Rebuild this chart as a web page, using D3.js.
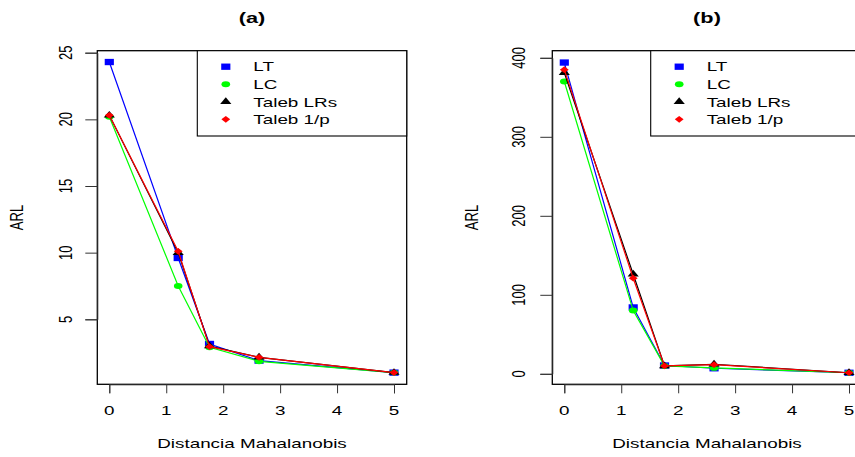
<!DOCTYPE html>
<html>
<head>
<meta charset="utf-8">
<script src="https://cdn.jsdelivr.net/npm/d3@7"></script>
<style>
  body { margin: 0; background: #fff; }
  svg text { font-family: "Liberation Sans", Arial, Helvetica, sans-serif; fill: #000; }
</style>
</head>
<body>
<div id="chart"></div>
<script>
// data
var distances = [0, 1.21, 1.76, 2.63, 5];
var seriesNames = ["LT", "LC", "Taleb LRs", "Taleb 1/p"];
var seriesColors = ["#0000ff", "#00ff00", "#000000", "#ff0000"];

// panel (a)
var ltA = [24.3, 9.6, 3.15, 1.9, 1.0];
var lcA = [20.2, 7.5, 2.9, 1.85, 1.0];
var talebLRsA = [20.3, 10.0, 3.0, 2.15, 1.0];
var talebPA = [20.3, 10.1, 2.95, 2.15, 1.0];
var yTicksA = [5, 10, 15, 20, 25];

// panel (b)
var ltB = [394, 84, 10.5, 7, 1.3];
var lcB = [370, 80, 10, 7.5, 1.3];
var talebLRsB = [381, 126, 10, 12, 1.3];
var talebPB = [385, 121, 10, 11.5, 1.3];
var yTicksB = [0, 100, 200, 300, 400];

var xTicks = [0, 1, 2, 3, 4, 5];

var svgWidth = 855;
var svgHeight = 457;
var sx = 1.45; // the picture is stretched sideways

var svg = d3.select("#chart")
    .append("svg")
    .attr("width", svgWidth)
    .attr("height", svgHeight);

// filled diamond like R pch 18
var diamond18 = {
    draw: function(context, size) {
        var h = Math.sqrt(size) * 0.62;
        context.moveTo(0, -h * 1.1);
        context.lineTo(h, 0);
        context.lineTo(0, h * 1.1);
        context.lineTo(-h, 0);
        context.closePath();
    }
};
var symbols = [
    d3.symbol(d3.symbolSquare, 40),
    d3.symbol(d3.symbolCircle, 28),
    d3.symbol(d3.symbolTriangle, 26),
    d3.symbol(diamond18, 24)
];

function stretchedText(g, x, y, txt, size, opts) {
    opts = opts || {};
    var t = g.append("text")
        .attr("transform", "translate(" + x + "," + y + ") scale(" + sx + ",1)" + (opts.rotate ? " rotate(-90)" : ""))
        .attr("font-size", size + "px")
        .attr("text-anchor", opts.anchor || "middle")
        .text(txt);
    if (opts.bold) t.attr("font-weight", "bold");
    return t;
}

function drawPanel(cfg) {
    var g = svg.append("g");
    var left = cfg.left, right = cfg.left + 309.4, top = 50.7, bottom = 384.3;

    var x = d3.scaleLinear().domain([0, 5]).range([left + 12, left + 296.7]);
    var y = d3.scaleLinear().domain(cfg.yDomain).range(cfg.yRange);

    // frame
    g.append("rect")
        .attr("x", left).attr("y", top)
        .attr("width", right - left).attr("height", bottom - top)
        .attr("fill", "none").attr("stroke", "#000").attr("stroke-width", 1.3);

    // y axis
    var yAxis = g.append("g")
        .attr("transform", "translate(" + left + ",0)")
        .call(d3.axisLeft(y).tickValues(cfg.yTicks).tickSize(12).tickFormat(""));
    yAxis.selectAll("path, line").attr("stroke", "#333");
    cfg.yTicks.forEach(function(v) {
        stretchedText(g, left - cfg.tickLabelGap, y(v), String(v), 13, {rotate: true});
    });

    // x axis
    var xAxis = g.append("g")
        .attr("transform", "translate(0," + bottom + ")")
        .call(d3.axisBottom(x).tickValues(xTicks).tickSize(9).tickFormat(""));
    xAxis.selectAll("path, line").attr("stroke", "#333");
    xTicks.forEach(function(v) {
        stretchedText(g, x(v), 415, String(v), 13);
    });

    // labels
    stretchedText(g, (left + right) / 2, 23, cfg.title, 15, {bold: true});
    stretchedText(g, (left + right) / 2, 448, "Distancia Mahalanobis", 13);
    stretchedText(g, left - 74, (top + bottom) / 2, "ARL", 13, {rotate: true});

    // series
    var line = d3.line()
        .x(function(d) { return x(d[0]); })
        .y(function(d) { return y(d[1]); });

    cfg.series.forEach(function(vals, i) {
        var pts = distances.map(function(d, j) { return [d, vals[j]]; });
        g.append("path")
            .datum(pts)
            .attr("d", line)
            .attr("fill", "none")
            .attr("stroke", seriesColors[i])
            .attr("stroke-width", 1.2);
        g.selectAll(".pt" + i)
            .data(pts)
            .enter()
            .append("path")
            .attr("class", "pt" + i)
            .attr("d", symbols[i]())
            .attr("transform", function(d) { return "translate(" + x(d[0]) + "," + y(d[1]) + ") scale(" + sx + ",1)"; })
            .attr("fill", seriesColors[i]);
    });

    // legend, top right
    var legLeft = cfg.legendLeft;
    g.append("rect")
        .attr("x", legLeft).attr("y", top)
        .attr("width", right - legLeft).attr("height", 136 - top)
        .attr("fill", "#fff").attr("stroke", "#000").attr("stroke-width", 1.1);
    seriesNames.forEach(function(name, i) {
        var ly = 66.7 + i * 17.55;
        g.append("path")
            .attr("d", symbols[i]())
            .attr("transform", "translate(" + (legLeft + 28.5) + "," + ly + ") scale(" + sx + ",1)")
            .attr("fill", seriesColors[i]);
        stretchedText(g, legLeft + 56, ly + 4.7, name, 13, {anchor: "start"});
    });
}

drawPanel({
    left: 97.3,
    title: "(a)",
    yDomain: [5, 25], yRange: [319.3, 52.7],
    yTicks: yTicksA,
    tickLabelGap: 25,
    series: [ltA, lcA, talebLRsA, talebPA],
    legendLeft: 197.3
});

drawPanel({
    left: 552.3,
    title: "(b)",
    yDomain: [0, 400], yRange: [373.8, 57.8],
    yTicks: yTicksB,
    tickLabelGap: 27,
    series: [ltB, lcB, talebLRsB, talebPB],
    legendLeft: 650.7
});
</script>
</body>
</html>
